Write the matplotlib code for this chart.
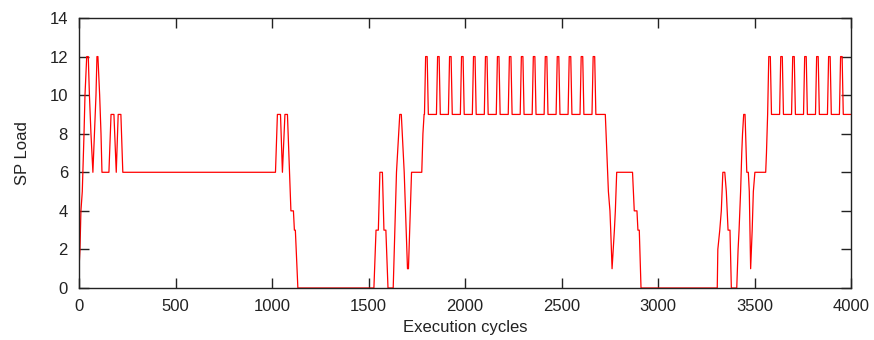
import matplotlib
matplotlib.use("Agg")
import matplotlib.pyplot as plt

plt.rcParams['font.family'] = ['Liberation Sans', 'DejaVu Sans']

# Breakpoints of the SP load trace (cycle, load)
seg1_x = [0, 5, 10, 17, 23, 26, 31, 40, 48, 54, 62, 72, 80, 88, 93, 98, 107, 114, 119,
          155, 166, 181, 193, 203, 217, 227,
          1018, 1028, 1044, 1054, 1067, 1080, 1094, 1098, 1111, 1116, 1121, 1134]
seg1_y = [1, 2, 4, 5, 7, 8, 10, 12, 12, 10, 8, 6, 8, 10, 12, 12, 10, 8, 6,
          6, 9, 9, 6, 9, 9, 6,
          6, 9, 9, 6, 9, 9, 5, 4, 4, 3, 3, 0]

seg2_x = [1528, 1539, 1551, 1559, 1572, 1580, 1590, 1601, 1628, 1645, 1662, 1670, 1685, 1702,
          1707, 1723, 1776, 1782, 1788]
seg2_y = [0, 3, 3, 6, 6, 3, 3, 0, 0, 6, 9, 9, 6, 1,
          1, 6, 6, 8, 9]

peaks_a = [1800, 1862, 1924, 1986, 2048, 2110, 2172, 2234, 2296, 2358, 2420, 2482, 2544, 2606, 2668]

seg3_x = [2727, 2735, 2743, 2751, 2755, 2762, 2768, 2774, 2779, 2786, 2868, 2877, 2891, 2896,
          2903, 2912, 3307, 3310, 3320, 3328, 3336, 3346, 3354, 3363, 3373, 3380, 3408, 3415,
          3420, 3428, 3434, 3438, 3444, 3451, 3460, 3468, 3473, 3480, 3488, 3494, 3502, 3558,
          3562, 3565, 3568]
seg3_y = [9, 7, 5, 4, 3, 1, 2, 3, 4, 6, 6, 4, 4, 3,
          3, 0, 0, 2, 3, 4, 6, 6, 5, 3, 3, 0, 0, 2,
          3, 5, 7, 8, 9, 9, 6, 6, 5, 1, 3, 5, 6, 6,
          7, 8, 9]

peaks_b = [3578, 3640, 3702, 3764, 3826, 3888, 3950]
end_x = [4000]
end_y = [9]


def peak_train(centers):
    xs, ys = [], []
    for c in centers:
        xs += [c - 10, c - 4, c + 4, c + 10]
        ys += [9, 12, 12, 9]
    return xs, ys


pa_x, pa_y = peak_train(peaks_a)
pb_x, pb_y = peak_train(peaks_b)

x = seg1_x + seg2_x + pa_x + seg3_x + pb_x + end_x
y = seg1_y + seg2_y + pa_y + seg3_y + pb_y + end_y

fig = plt.figure(figsize=(8.74, 3.40), dpi=100)
ax = fig.add_axes([79 / 874, 52 / 340, 772 / 874, 270 / 340])
ax.plot(x, y, color='#ff0000', linewidth=0.9)

ax.set_xlim(0, 4000)
ax.set_ylim(0, 14)
ax.set_xticks([0, 500, 1000, 1500, 2000, 2500, 3000, 3500, 4000])
ax.set_yticks([0, 2, 4, 6, 8, 10, 12, 14])
ax.tick_params(direction='in', length=7, width=1, top=True, right=True,
               labelsize=12, colors='#222222', pad=8)
for s in ax.spines.values():
    s.set_linewidth(1)
    s.set_color('#222222')
ax.set_xlabel('Execution cycles', fontsize=12, labelpad=4, color='#222222')
ax.set_ylabel('SP Load', fontsize=12, labelpad=14, color='#222222')

fig.savefig('out.png', dpi=100)
